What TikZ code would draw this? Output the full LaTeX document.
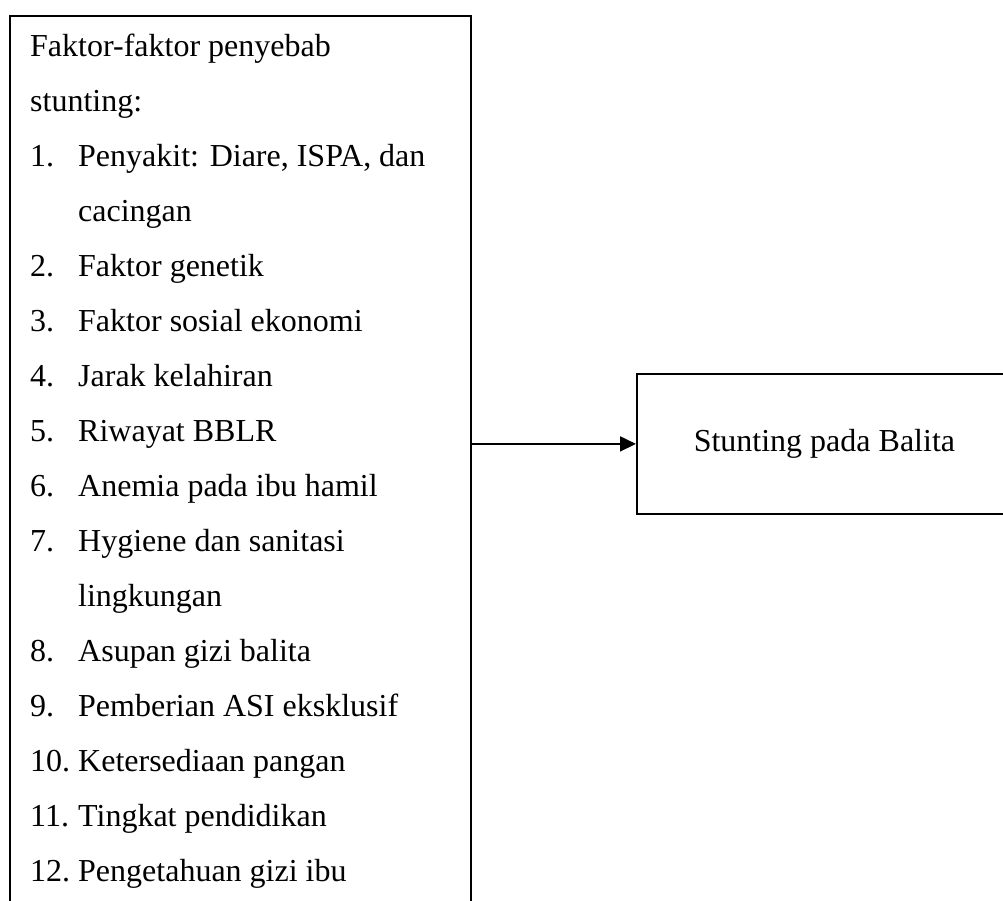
\documentclass[tikz,border=0pt]{standalone}
\usepackage{fontspec}
\setmainfont{Liberation Serif}
\usetikzlibrary{arrows.meta}
\begin{document}
\begin{tikzpicture}[x=1pt,y=-1pt,
  box/.style={draw, line width=1.8pt, rectangle, inner sep=0pt},
  txt/.style={anchor=base west, inner sep=0pt, font=\fontsize{32}{38}\selectfont},
  conn/.style={line width=1.8pt, -{Triangle[length=16pt,width=15pt]}}
]
\useasboundingbox (0,0) rectangle (1003,900);
\node[box, minimum width=461pt, minimum height=920pt, anchor=north west] (left) at (9,15) {};
\node[box, minimum width=375pt, minimum height=140pt, anchor=north west,
      font=\fontsize{32}{38}\selectfont] (right) at (636,373) {Stunting pada Balita};
\draw[conn] (right.west -| left.east) -- (right.west);

\node[txt] (h1) at (30,56) {Faktor-faktor penyebab};
\node[txt] (h2) at (30,111) {stunting:};
\foreach \n/\y/\t in {1/166/{Penyakit: Diare, ISPA, dan},
                      2/276/{Faktor genetik},
                      3/331/{Faktor sosial ekonomi},
                      4/386/{Jarak kelahiran},
                      5/441/{Riwayat BBLR},
                      6/496/{Anemia pada ibu hamil},
                      7/551/{Hygiene dan sanitasi},
                      8/661/{Asupan gizi balita},
                      9/716/{Pemberian ASI eksklusif},
                      10/771/{Ketersediaan pangan},
                      11/826/{Tingkat pendidikan},
                      12/881/{Pengetahuan gizi ibu}}{
  \node[txt] (n\n) at (30,\y) {\n.};
  \node[txt] (i\n) at (78,\y) {\t};
}
\node[txt] (i1b) at (78,221) {cacingan};
\node[txt] (i7b) at (78,606) {lingkungan};
\end{tikzpicture}
\end{document}
